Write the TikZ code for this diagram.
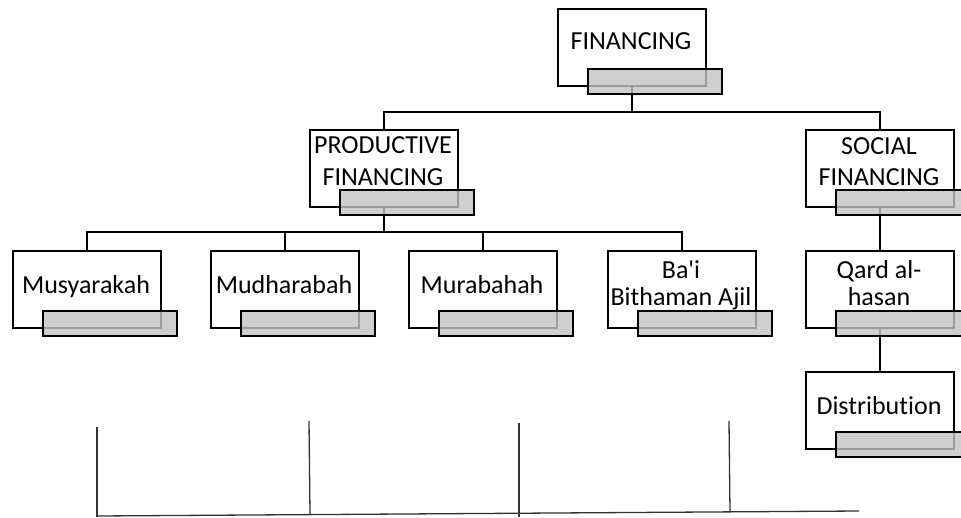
\documentclass[tikz,border=0pt]{standalone}
\usepackage{fontspec}
\newfontfamily\boxfont[Ligatures=NoCommon]{Carlito}
\begin{document}
\begin{tikzpicture}[x=1pt,y=-1pt,
  wbox/.style={rectangle,draw=black,fill=white,line width=2.4pt,minimum width=148pt,minimum height=77pt,anchor=north west,inner sep=0pt},
  gbox/.style={rectangle,draw=black,fill={rgb,255:red,195;green,195;blue,195},fill opacity=0.8,draw opacity=1,line width=2.4pt,minimum width=134pt,minimum height=25pt,anchor=north west,inner sep=0pt},
  lbl/.style={anchor=base,inner sep=0pt,font=\boxfont\fontsize{26}{31}\selectfont,text=black},
  conn/.style={draw=black,line width=2.4pt},
  thin/.style={draw=black!80,line width=1.3pt}]
\path[use as bounding box,clip] (0,0) rectangle (961,517);
% white boxes
\node[wbox] (w1) at (557,8) {};
\node[wbox] (w2) at (309,129) {};
\node[wbox] (w3) at (805,129) {};
\node[wbox] (w4) at (12,250) {};
\node[wbox] (w5) at (210,250) {};
\node[wbox] (w6) at (408,250) {};
\node[wbox] (w7) at (607,250) {};
\node[wbox] (w8) at (805,250) {};
\node[wbox] (w9) at (805,371) {};
% connectors
\coordinate (busA) at (0,112);
\coordinate (busB) at (0,232);
\draw[conn] (w1.south) -- (w1.south |- busA) -| (w2.north);
\draw[conn] (w1.south |- busA) -| (w3.north);
\draw[conn] (w2.south) -- (w2.south |- busB) -| (w4.north);
\draw[conn] (w2.south |- busB) -| (w5.north);
\draw[conn] (w2.south |- busB) -| (w6.north);
\draw[conn] (w2.south |- busB) -| (w7.north);
\draw[conn] (w3.south) -- (w8.north);
\draw[conn] (w8.south) -- (w9.north);
% labels
\node[lbl] (t1) at (631,49) {FINANCING};
\node[lbl] (t2a) at (383,153) {PRODUCTIVE};
\node[lbl] (t2b) at (383,185) {FINANCING};
\node[lbl] (t3a) at (879,154) {SOCIAL};
\node[lbl] (t3b) at (879,185) {FINANCING};
\node[lbl] (t4) at (86,293) {Musyarakah};
\node[lbl] (t5) at (284,293) {Mudharabah};
\node[lbl] (t6) at (482,293) {Murabahah};
\node[lbl] (t7a) at (681,278) {Ba'i};
\node[lbl] (t7b) at (681,305) {Bithaman Ajil};
\node[lbl] (t8a) at (879,278) {Qard al-};
\node[lbl] (t8b) at (879,305) {hasan};
\node[lbl] (t9) at (879,414) {Distribution};
% gray boxes
\node[gbox] (g1) at (587,68) {};
\node[gbox] (g2) at (339,189) {};
\node[gbox] (g3) at (835,189) {};
\node[gbox] (g4) at (42,310) {};
\node[gbox] (g5) at (240,310) {};
\node[gbox] (g6) at (438,310) {};
\node[gbox] (g7) at (637,310) {};
\node[gbox] (g8) at (835,310) {};
\node[gbox] (g9) at (835,431) {};
% thin lines at the bottom
\coordinate (v1t) at (97,427);  \coordinate (v1b) at (97,517);
\coordinate (v2t) at (309,421); \coordinate (v2b) at (310,514);
\coordinate (v3t) at (519,423); \coordinate (v3b) at (519,517);
\coordinate (v4t) at (729,421); \coordinate (v4b) at (730,512);
\coordinate (hl) at (97,516);   \coordinate (hr) at (859,511);
\draw[thin] (v1t) -- (v1b);
\draw[thin] (v2t) -- (v2b);
\draw[thin] (v3t) -- (v3b);
\draw[thin] (v4t) -- (v4b);
\draw[thin] (hl) -- (hr);
\end{tikzpicture}
\end{document}
